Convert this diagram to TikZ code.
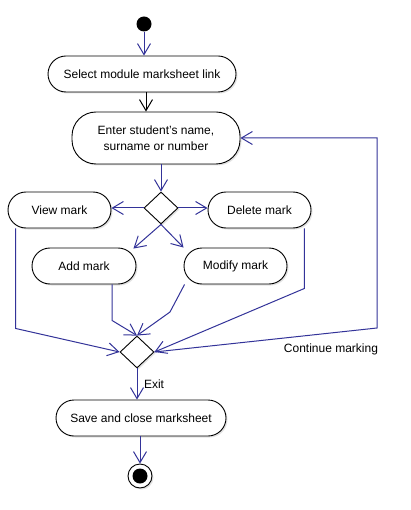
\documentclass[tikz,border=0pt]{standalone}
\usepackage{fontspec}
\setmainfont{Liberation Sans}
\usetikzlibrary{arrows.meta,shapes.geometric,shadows,calc}
\definecolor{arrowblue}{RGB}{51,51,153}
\tikzset{
  act/.style={draw, fill=white, rounded corners=18pt, minimum height=36pt, inner sep=2pt,
    font=\fontsize{12}{14}\selectfont, line width=0.9pt,
    drop shadow={shadow xshift=1.5pt, shadow yshift=-1.5pt, fill=black!22}},
  dec/.style={draw, fill=white, diamond, inner sep=0pt, minimum width=34pt, minimum height=32pt,
    line width=0.9pt, drop shadow={shadow xshift=1.5pt, shadow yshift=-1.5pt, fill=black!22}},
  flow/.style={draw=arrowblue, line width=1pt, -{Straight Barb[length=11pt,width=13pt]}},
  bflow/.style={draw=black, line width=1pt, -{Straight Barb[length=11pt,width=13pt]}},
  lbl/.style={font=\fontsize{12}{14}\selectfont, inner sep=0pt},
}
\begin{document}
\begin{tikzpicture}[x=1pt,y=-1pt]
\useasboundingbox[fill=white] (0,0) rectangle (411,510);
% nodes
\node[circle, fill=black, minimum size=15pt, inner sep=0pt] (start) at (144,24) {};
\node[act, minimum width=188pt] (sel) at (142,74) {Select module marksheet link};
\node[act, minimum width=168pt, minimum height=52pt, rounded corners=24pt, align=center,
      font=\fontsize{12}{16}\selectfont] (ent) at (156,138) {Enter student's name,\\ surname or number};
\node[dec] (d1) at (161,208) {};
\node[act, minimum width=103pt] (view) at (59.5,210) {View mark};
\node[act, minimum width=103pt] (del) at (259.5,210) {Delete mark};
\node[act, minimum width=104pt] (add) at (84,266) {Add mark};
\node[act, minimum width=103pt] (mod) at (235.5,266) {Modify mark};
\node[dec] (d2) at (137,352) {};
\node[act, minimum width=170pt] (save) at (141,418) {Save and close marksheet};
\node[circle, draw, fill=white, line width=0.9pt, minimum size=24pt, inner sep=0pt,
      drop shadow={shadow xshift=1.5pt, shadow yshift=-1.5pt, fill=black!22}] (end) at (140,476) {};
\node[circle, fill=black, minimum size=15pt, inner sep=0pt] (endin) at (end.center) {};
\node[lbl] (lcont) at (331,349) {Continue marking};
\node[lbl] (lexit) at (154,384) {Exit};
% helper coordinates
\coordinate (s1) at ($(sel.south)+(4,0)$);
\coordinate (addtip) at ($(add.north east)+(-3,1)$);
\coordinate (vw1) at ($(view.south west)+(8,0)$);
\coordinate (ad1) at ($(add.south)+(28,0)$);
\coordinate (md1) at ($(mod.south west)+(1,0)$);
\coordinate (md2) at (170,312);
\coordinate (dl1) at ($(del.south east)+(-7,0)$);
\coordinate (loop) at (377,328);
% connectors
\draw[flow] (start.south) -- (start.south |- sel.north);
\draw[bflow] (s1) -- (s1 |- ent.north);
\draw[flow] (ent.south -| d1) -- (d1.north);
\draw[flow] (d1.west) -- (d1.west -| view.east);
\draw[flow] (d1.east) -- (d1.east -| del.west);
\draw[flow] (d1.south) -- (addtip);
\draw[flow] (d1.south) -- (mod.north west);
\draw[flow] (vw1) -- ++(0,100) -- (d2.west);
\draw[flow] (ad1) -- ++(0,36) -- (d2.north);
\draw[flow] (md1) -- (md2) -- (d2.north);
\draw[flow] (dl1) -- ++(0,60) -- (d2.east);
\draw[flow] (d2.east) -- (loop) |- (ent.east);
\draw[flow] (d2.south) -- (d2.south |- save.north);
\draw[flow] (save.south -| end) -- (end.north);
\end{tikzpicture}
\end{document}
